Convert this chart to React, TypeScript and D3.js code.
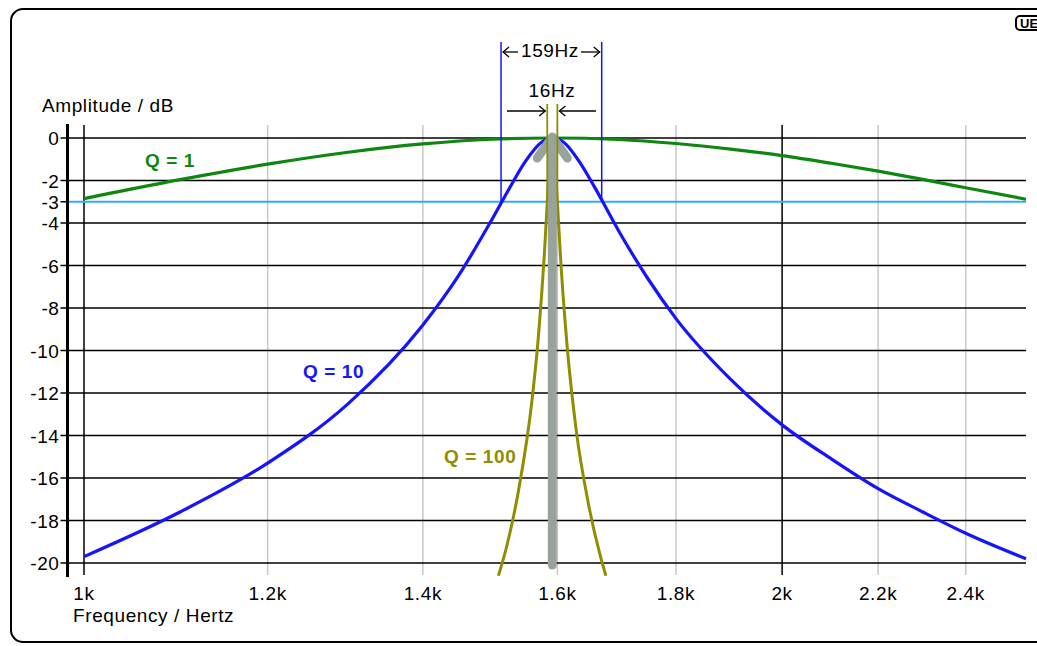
import React from "react";
import * as d3 from "d3";

// ---- data ----
const q1Freq = [1000, 1100, 1200, 1300, 1400, 1500, 1592, 1700, 1800, 1900, 2000, 2100, 2200, 2300, 2400, 2548];
const q1Db = [-2.85, -1.96, -1.23, -0.67, -0.28, -0.06, 0, -0.07, -0.26, -0.52, -0.83, -1.19, -1.56, -1.95, -2.34, -2.88];

const q10Freq = [1000, 1100, 1200, 1300, 1400, 1450, 1500, 1525, 1550, 1575, 1592, 1610, 1635, 1660, 1700, 1750, 1800, 1900, 2000, 2100, 2200, 2300, 2400, 2548];
const q10Db = [-19.7, -17.6, -15.3, -12.5, -8.8, -6.5, -3.8, -2.4, -1.1, -0.2, 0, -0.2, -1.1, -2.3, -4.35, -6.6, -8.5, -11.35, -13.5, -15.1, -16.5, -17.6, -18.6, -19.8];

const q100Freq = [1509, 1520, 1540, 1560, 1570, 1580, 1585, 1588, 1592, 1596, 1600, 1605, 1615, 1630, 1650, 1670, 1679];
const q100Db = [-20.6, -19.4, -16.5, -12.4, -9.4, -5.2, -2.5, -1.0, 0, -1.0, -3.0, -5.6, -9.6, -13.7, -17.2, -19.7, -20.6];

const yTicks = [0, -2, -3, -4, -6, -8, -10, -12, -14, -16, -18, -20];
const yGrid = [0, -2, -4, -6, -8, -10, -12, -14, -16, -18, -20];
const xTicks = [1000, 1200, 1400, 1600, 1800, 2000, 2200, 2400];
const xTickLabels = ["1k", "1.2k", "1.4k", "1.6k", "1.8k", "2k", "2.2k", "2.4k"];
const xMajor = [1000, 2000];

const centerFreq = 1592;
const bw10 = [1513, 1672]; // 159Hz
const bw100 = [1584, 1600]; // 16Hz

const GREEN = "#0f870f";
const BLUE = "#1414ff";
const OLIVE = "#8e8e00";
const LIGHTBLUE = "#33aaff";
const ARROW = "#98a39b";
const FONT = "'Liberation Sans', Arial, sans-serif";

export default function App() {
  const x = d3.scaleLog().domain([1000, 2548]).range([84, 1026]);
  const y = d3.scaleLinear().domain([0, -20]).range([138, 563]);
  const line = d3
    .line<[number, number]>()
    .x((d) => x(d[0]))
    .y((d) => y(d[1]))
    .curve(d3.curveMonotoneX);
  const mk = (f: number[], v: number[]) => line(f.map((ff, i) => [ff, v[i]] as [number, number])) || "";

  const axisX = 67.5;
  const gridTop = 125;
  const gridBottom = 575;
  const right = 1026;
  const y3 = y(-3);
  const ts = { fontFamily: FONT, fontSize: 19, letterSpacing: 0.6 } as const;

  const arrowX = x(centerFreq);

  return (
    <svg
      width={1037}
      height={646}
      style={{ position: "absolute", left: 0, top: 0, background: "#fff" }}
    >
      <rect x={0} y={0} width={1037} height={646} fill="#fff" />
      {/* frame */}
      <rect x={11} y={9} width={1060} height={633} rx={12} ry={12} fill="none" stroke="#000" strokeWidth={2} />
      {/* badge */}
      <rect x={1016} y={16} width={30} height={14} rx={4} fill="#fff" stroke="#000" strokeWidth={2} />
      <text x={1020} y={28} fontFamily={FONT} fontSize={13} fontWeight="bold">UE</text>

      {/* vertical grid */}
      {xTicks.map((t) => (
        <line
          key={"vx" + t}
          x1={x(t)}
          x2={x(t)}
          y1={gridTop}
          y2={gridBottom}
          stroke={xMajor.includes(t) ? "#000" : "#c8c8c8"}
          strokeWidth={1.5}
        />
      ))}
      {/* horizontal grid */}
      {yGrid.map((t) => (
        <line key={"hy" + t} x1={axisX - 7} x2={right} y1={y(t)} y2={y(t)} stroke="#000" strokeWidth={1.5} />
      ))}
      <line x1={axisX} x2={right} y1={y3} y2={y3} stroke={LIGHTBLUE} strokeWidth={2} />
      <line x1={axisX - 7} x2={axisX} y1={y3} y2={y3} stroke="#000" strokeWidth={1.5} />

      {/* y axis */}
      <line x1={axisX} x2={axisX} y1={124} y2={577} stroke="#000" strokeWidth={3} />
      {yTicks.map((t) => (
        <text key={"yl" + t} x={axisX - 8} y={y(t) + 7} textAnchor="end" {...ts}>
          {t}
        </text>
      ))}
      {xTicks.map((t, i) => (
        <text key={"xl" + t} x={x(t)} y={600} textAnchor="middle" {...ts}>
          {xTickLabels[i]}
        </text>
      ))}
      <text x={42} y={112} {...ts}>Amplitude / dB</text>
      <text x={73} y={622} {...ts}>Frequency / Hertz</text>

      {/* curves */}
      <path d={mk(q1Freq, q1Db)} fill="none" stroke={GREEN} strokeWidth={3.2} />
      <path d={mk(q10Freq, q10Db)} fill="none" stroke={BLUE} strokeWidth={3.2} />
      <path d={mk(q100Freq, q100Db)} fill="none" stroke={OLIVE} strokeWidth={3} />

      {/* bandwidth annotations */}
      {bw10.map((f) => (
        <line key={"b10" + f} x1={x(f)} x2={x(f)} y1={42} y2={y3} stroke={BLUE} strokeWidth={1.5} />
      ))}
      {/* bandwidth arrows */}
      <g stroke="#000" strokeWidth={1.3} fill="none">
        <line x1={x(bw10[0]) + 2} x2={518} y1={52} y2={52} />
        <polyline points={`${x(bw10[0]) + 8},47 ${x(bw10[0]) + 2},52 ${x(bw10[0]) + 8},57`} />
        <line x1={581} x2={x(bw10[1]) - 2} y1={52} y2={52} />
        <polyline points={`${x(bw10[1]) - 8},47 ${x(bw10[1]) - 2},52 ${x(bw10[1]) - 8},57`} />
        <line x1={507} x2={x(bw100[0]) - 2} y1={111} y2={111} />
        <polyline points={`${x(bw100[0]) - 8},106 ${x(bw100[0]) - 2},111 ${x(bw100[0]) - 8},116`} />
        <line x1={x(bw100[1]) + 2} x2={596} y1={111} y2={111} />
        <polyline points={`${x(bw100[1]) + 8},106 ${x(bw100[1]) + 2},111 ${x(bw100[1]) + 8},116`} />
      </g>
      <text x={550} y={57} textAnchor="middle" {...ts}>159Hz</text>
      <text x={552} y={97} textAnchor="middle" {...ts}>16Hz</text>

      {/* centre arrow */}
      <g stroke={ARROW} strokeWidth={9} strokeLinecap="round" strokeLinejoin="round" fill="none">
        <line x1={arrowX} x2={arrowX} y1={565} y2={138} />
        <polyline points={`${arrowX - 15},158 ${arrowX},137 ${arrowX + 15},158`} />
      </g>
      {bw100.map((f) => (
        <line key={"b100" + f} x1={x(f)} x2={x(f)} y1={104} y2={y3} stroke={OLIVE} strokeWidth={1.8} />
      ))}

      {/* labels */}
      <text x={145} y={167} fill={GREEN} fontWeight="bold" {...ts}>Q = 1</text>
      <text x={303} y={378} fill={BLUE} fontWeight="bold" {...ts}>Q = 10</text>
      <text x={444} y={463} fill={OLIVE} fontWeight="bold" {...ts}>Q = 100</text>
    </svg>
  );
}
